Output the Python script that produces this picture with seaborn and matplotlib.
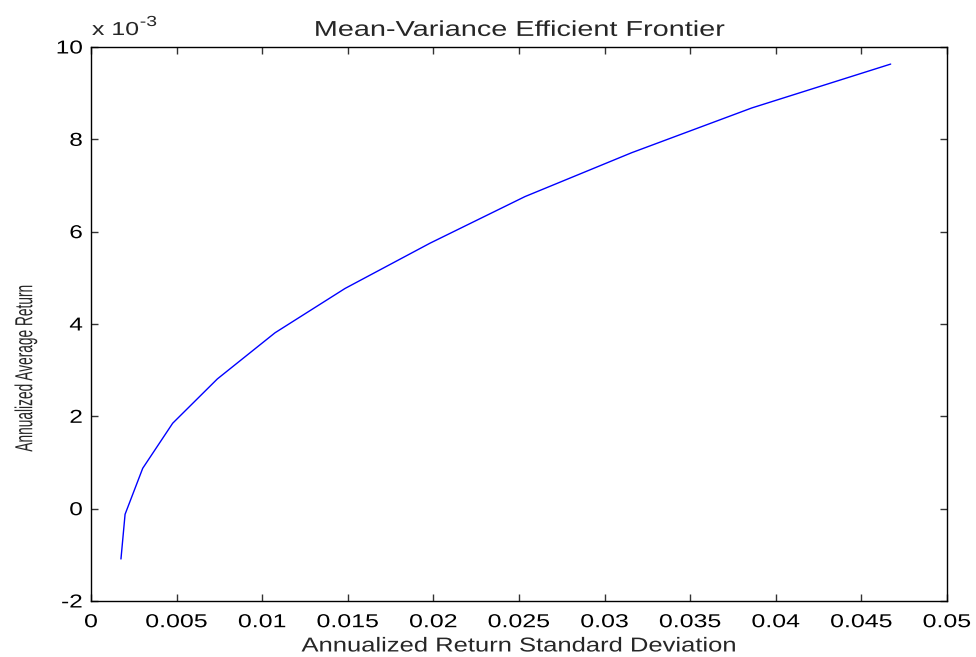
import matplotlib
matplotlib.use("Agg")
import matplotlib.pyplot as plt
import seaborn as sns
import pandas as pd
from matplotlib.ticker import FuncFormatter, MultipleLocator
from matplotlib.patheffects import AbstractPathEffect
from matplotlib.transforms import Affine2D

# Data
risk = [0.00175, 0.00199, 0.00302, 0.00477, 0.00738, 0.01075, 0.01484,
        0.0198, 0.02535, 0.03158, 0.0386, 0.04671]
ret = [-0.00109, -0.000122, 0.000874, 0.00185, 0.00281, 0.00381, 0.00477,
       0.00575, 0.00676, 0.00771, 0.00868, 0.00963]

title = "Mean-Variance Efficient Frontier"
xlab = "Annualized Return Standard Deviation"
ylab = "Annualized Average Return"
exp_base = "x 10"
exp_power = "-3"


class Stretch(AbstractPathEffect):
    """Scale the glyph outlines of a text around an anchor of its ink box."""

    def __init__(self, sx=1.0, sy=1.0, anchor="center"):
        super().__init__()
        self.sx, self.sy, self.anchor = sx, sy, anchor

    def draw_path(self, renderer, gc, tpath, affine, rgbFace=None):
        ext = affine.transform_path(tpath).get_extents()
        if self.anchor == "right":
            cx = ext.x1
        elif self.anchor == "left":
            cx = ext.x0
        else:
            cx = 0.5 * (ext.x0 + ext.x1)
        cy = 0.5 * (ext.y0 + ext.y1)
        t = affine + Affine2D().translate(-cx, -cy).scale(self.sx, self.sy).translate(cx, cy)
        renderer.draw_path(gc, tpath, t, rgbFace)


sns.set_style("white")
plt.rcParams["font.family"] = ["Liberation Sans", "DejaVu Sans"]

W, H = 976, 657
fig = plt.figure(figsize=(W / 100, H / 100), dpi=100)
ax = fig.add_axes([91 / W, 1 - 601 / H, (947 - 91) / W, (601 - 47) / H])

df = pd.DataFrame({"risk": risk, "ret": ret})
sns.lineplot(data=df, x="risk", y="ret", sort=False, color=(0, 0, 1),
             linewidth=1.0, ax=ax)

ax.set_xlim(0, 0.05)
ax.set_ylim(-0.002, 0.010)
ax.xaxis.set_major_locator(MultipleLocator(0.005))
ax.yaxis.set_major_locator(MultipleLocator(0.002))
ax.xaxis.set_major_formatter(FuncFormatter(lambda v, p: "%g" % round(v, 4)))
ax.yaxis.set_major_formatter(FuncFormatter(lambda v, p: "%g" % round(v * 1000, 3)))

for s in ax.spines.values():
    s.set_visible(True)
    s.set_color("black")
    s.set_linewidth(1.0)

ax.tick_params(direction="in", length=5, width=1, colors="#333333",
               labelcolor="black", labelsize=13.5, top=True, right=True,
               bottom=True, left=True)
ax.tick_params(axis="x", pad=9.5)
ax.tick_params(axis="y", pad=6)

ax.set_title(title, fontsize=15.5, pad=8)
ax.set_xlabel(xlab, fontsize=14.5)
ax.set_ylabel(ylab, fontsize=13)
ax.xaxis.label.set_va("center")
ax.yaxis.label.set_va("center")
ax.xaxis.set_label_coords(0.5, -0.0812)
ax.yaxis.set_label_coords(-0.0759, 0.42)

# exponent label "x 10^-3" (plain hyphen, as in the reference)
off = fig.text(92 / W, 1 - 35 / H, exp_base, fontsize=13.5, ha="left", va="baseline")
pw = fig.text(140 / W, 1 - 26 / H, exp_power, fontsize=10.5, ha="left", va="baseline")

fig.canvas.draw()
for lab in ax.get_xticklabels():
    lab.set_path_effects([Stretch(1.33, 1.0, "center")])
for lab in ax.get_yticklabels():
    lab.set_path_effects([Stretch(1.30, 1.0, "right")])
ax.title.set_path_effects([Stretch(1.34, 1.0, "center")])
ax.xaxis.label.set_path_effects([Stretch(1.27, 1.0, "center")])
ax.yaxis.label.set_path_effects([Stretch(1.36, 0.76, "center")])
off.set_path_effects([Stretch(1.33, 1.0, "left")])
pw.set_path_effects([Stretch(1.33, 1.0, "left")])

fig.savefig("out.png", dpi=100)
